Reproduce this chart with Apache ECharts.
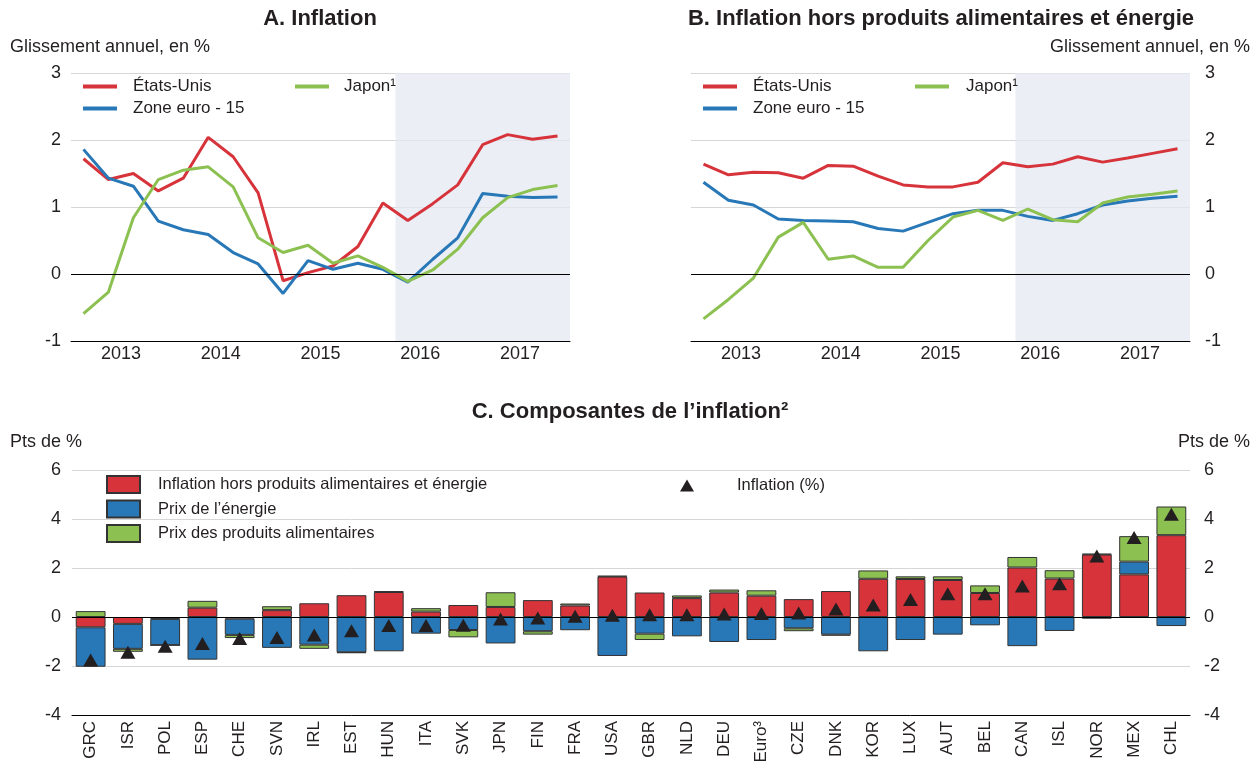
<!DOCTYPE html>
<html>
<head>
<meta charset="utf-8">
<script src="https://cdn.jsdelivr.net/npm/echarts@6/dist/echarts.min.js"></script>
<style>
  html, body { margin: 0; padding: 0; background: #fff; }
  #main { width: 1259px; height: 765px; }
</style>
</head>
<body>
<div id="main"></div>
<script>
// trimestres 2013T1 - 2017T4
var quarters = ['2013T1','2013T2','2013T3','2013T4','2014T1','2014T2','2014T3','2014T4',
  '2015T1','2015T2','2015T3','2015T4','2016T1','2016T2','2016T3','2016T4',
  '2017T1','2017T2','2017T3','2017T4'];
var years = ['2013', '2014', '2015', '2016', '2017'];

// A. Inflation
var usA = [1.72, 1.41, 1.50, 1.24, 1.43, 2.04, 1.75, 1.21, -0.10, 0.02,
  0.12, 0.41, 1.06, 0.80, 1.05, 1.33, 1.93, 2.08, 2.01, 2.06];
var euA = [1.86, 1.43, 1.31, 0.79, 0.66, 0.59, 0.32, 0.15, -0.29, 0.20,
  0.07, 0.16, 0.07, -0.12, 0.22, 0.54, 1.20, 1.16, 1.14, 1.15];
var jpA = [-0.59, -0.27, 0.84, 1.41, 1.55, 1.60, 1.30, 0.54, 0.32, 0.43,
  0.16, 0.27, 0.10, -0.11, 0.06, 0.37, 0.84, 1.14, 1.26, 1.32];

// B. Inflation hors produits alimentaires et énergie
var usB = [1.64, 1.48, 1.52, 1.51, 1.43, 1.62, 1.61, 1.46, 1.33, 1.30,
  1.30, 1.37, 1.66, 1.60, 1.64, 1.75, 1.67, 1.73, 1.80, 1.87];
var euB = [1.37, 1.10, 1.03, 0.82, 0.80, 0.79, 0.78, 0.68, 0.64, 0.77,
  0.90, 0.95, 0.95, 0.86, 0.80, 0.90, 1.03, 1.09, 1.13, 1.16];
var jpB = [-0.67, -0.38, -0.06, 0.55, 0.77, 0.22, 0.27, 0.10, 0.10, 0.50,
  0.85, 0.95, 0.80, 0.97, 0.81, 0.78, 1.06, 1.15, 1.19, 1.24];

// C. Composantes de l'inflation
var countries = ['GRC','ISR','POL','ESP','CHE','SVN','IRL','EST','HUN','ITA','SVK','JPN','FIN','FRA','USA',
  'GBR','NLD','DEU','Euro³','CZE','DNK','KOR','LUX','AUT','BEL','CAN','ISL','NOR','MEX','CHL'];
var coreInfl = [-0.42, -0.28, -0.08, 0.38, -0.07, 0.28, 0.56, 0.89, 1.02, 0.22, 0.49, 0.41, 0.69, 0.47, 1.65,
  1.00, 0.77, 1.00, 0.87, 0.73, 1.06, 1.56, 1.55, 1.51, 0.98, 2.02, 1.57, 2.55, 1.74, 3.34];
var energy = [-1.61, -1.02, -1.07, -1.74, -0.66, -1.26, -1.13, -1.44, -1.40, -0.68, -0.53, -1.08, -0.58, -0.54, -1.59,
  -0.68, -0.79, -1.02, -0.94, -0.46, -0.72, -1.40, -0.94, -0.72, -0.34, -1.19, -0.57, -0.07, 0.52, -0.37];
var food = [0.24, -0.12, 0, 0.28, -0.13, 0.16, -0.17, -0.03, 0.03, 0.14, -0.30, 0.60, -0.14, 0.08, 0.03,
  -0.26, 0.11, 0.12, 0.22, -0.12, -0.04, 0.34, 0.11, 0.15, 0.31, 0.43, 0.34, 0.03, 1.04, 1.17];
var headline = [-1.76, -1.44, -1.19, -1.08, -0.88, -0.84, -0.73, -0.56, -0.35, -0.35, -0.34, -0.08, -0.04, 0.03, 0.07,
  0.09, 0.09, 0.12, 0.14, 0.16, 0.33, 0.49, 0.71, 0.95, 0.95, 1.27, 1.36, 2.49, 3.25, 4.19];

var RED = '#d6333b', BLUE = '#2878b8', GREEN = '#8cc152';
var TXT = '#231f20';
var FONT = 'Liberation Sans';

var chart = echarts.init(document.getElementById('main'));

function zeroLine() {
  return {
    silent: true, symbol: ['none', 'none'], label: { show: false },
    lineStyle: { color: '#000', width: 1, type: 'solid' },
    data: [{ yAxis: 0 }]
  };
}

// axes x pour un panneau de lignes (trimestres + années + axe caché pour la zone grisée)
function lineXAxes(g) {
  return [
    { type: 'category', gridIndex: g, data: quarters, boundaryGap: true, position: 'bottom',
      axisLine: { onZero: false, lineStyle: { color: '#000', width: 1 } },
      axisTick: { inside: true, length: 4, interval: 0, lineStyle: { color: '#000' } },
      axisLabel: { show: false }, splitLine: { show: false } },
    { type: 'category', gridIndex: g, data: years, boundaryGap: true, position: 'bottom',
      axisLine: { show: false, onZero: false },
      axisTick: { inside: true, length: 8, interval: 0, lineStyle: { color: '#000' } },
      axisLabel: { fontSize: 18, color: TXT, fontFamily: FONT, margin: 4 }, splitLine: { show: false } },
    { type: 'value', gridIndex: g, min: 0, max: 20, show: false }
  ];
}

function lineY(g, pos) {
  return { type: 'value', gridIndex: g, min: -1, max: 3, interval: 1, position: pos,
    axisLine: { show: false }, axisTick: { show: false },
    axisLabel: { fontSize: 18, color: TXT, fontFamily: FONT, margin: pos === 'left' ? 10 : 15 },
    splitLine: { lineStyle: { color: '#d6d6d6', width: 1 } } };
}

function lineSeries(name, data, color, xi, yi, extra) {
  var s = { name: name, type: 'line', xAxisIndex: xi, yAxisIndex: yi, data: data,
    symbol: 'none', lineStyle: { width: 3, color: color }, itemStyle: { color: color }, z: 3 };
  if (extra) s.markLine = zeroLine();
  return s;
}

function shade(xi, yi) {
  return { type: 'line', xAxisIndex: xi, yAxisIndex: yi, data: [], silent: true, z: 1,
    markArea: { silent: true, itemStyle: { color: '#e4e9f1', opacity: 0.75 },
      data: [[{ xAxis: 13 }, { xAxis: 20 }]] } };
}

var legendText = { fontSize: 17, color: TXT, fontFamily: FONT };
var legendTextC = { fontSize: 16.5, color: TXT, fontFamily: FONT };

var option = {
  animation: false,
  textStyle: { fontFamily: FONT },
  grid: [
    { left: 71, width: 499, top: 73, height: 268, containLabel: false, outerBoundsMode: 'none' },
    { left: 691, width: 499, top: 73, height: 268, containLabel: false, outerBoundsMode: 'none' },
    { left: 72, width: 1118, top: 470, height: 245, containLabel: false, outerBoundsMode: 'none' }
  ],
  xAxis: lineXAxes(0).concat(lineXAxes(1)).concat([
    { type: 'category', gridIndex: 2, data: countries, position: 'bottom',
      axisLine: { onZero: false, lineStyle: { color: '#000', width: 1 } },
      axisTick: { alignWithLabel: true, length: 4, lineStyle: { color: '#000' } },
      axisLabel: { rotate: 90, interval: 0, fontSize: 17, color: TXT, fontFamily: FONT, margin: 6 } }
  ]),
  yAxis: [
    lineY(0, 'left'),
    lineY(1, 'right'),
    { type: 'value', gridIndex: 2, min: -4, max: 6, interval: 2, position: 'left',
      axisLine: { show: false }, axisTick: { show: false },
      axisLabel: { fontSize: 18, color: TXT, fontFamily: FONT, margin: 11 },
      splitLine: { lineStyle: { color: '#d6d6d6', width: 1 } } },
    { type: 'value', gridIndex: 2, min: -4, max: 6, interval: 2, position: 'right',
      axisLine: { show: false }, axisTick: { show: false },
      axisLabel: { fontSize: 18, color: TXT, fontFamily: FONT, margin: 14 },
      splitLine: { show: false } }
  ],
  legend: [
    { data: ['États-Unis', 'Zone euro - 15'], orient: 'vertical', left: 83, top: 78, padding: 0,
      icon: 'rect', itemWidth: 34, itemHeight: 4, itemGap: 5, selectedMode: false,
      textStyle: Object.assign({ padding: [0, 0, 0, 11] }, legendText) },
    { data: ['Japon¹'], orient: 'vertical', left: 295, top: 78, padding: 0,
      icon: 'rect', itemWidth: 34, itemHeight: 4, selectedMode: false,
      textStyle: Object.assign({ padding: [0, 0, 0, 10] }, legendText) },
    { data: ['États-Unis', 'Zone euro - 15'], orient: 'vertical', left: 703, top: 78, padding: 0,
      icon: 'rect', itemWidth: 34, itemHeight: 4, itemGap: 5, selectedMode: false,
      textStyle: Object.assign({ padding: [0, 0, 0, 11] }, legendText) },
    { data: ['Japon¹'], orient: 'vertical', left: 915, top: 78, padding: 0,
      icon: 'rect', itemWidth: 34, itemHeight: 4, selectedMode: false,
      textStyle: Object.assign({ padding: [0, 0, 0, 12] }, legendText) },
    { data: ['Inflation hors produits alimentaires et énergie', 'Prix de l’énergie', 'Prix des produits alimentaires'],
      orient: 'vertical', left: 106, top: 475, padding: 0, icon: 'rect',
      itemWidth: 33, itemHeight: 17, itemGap: 5.5, selectedMode: false,
      textStyle: Object.assign({ padding: [0, 0, 0, 13] }, legendTextC) },
    { data: ['Inflation (%)'], left: 680, top: 477, padding: 0,
      itemWidth: 14, itemHeight: 12, selectedMode: false,
      textStyle: Object.assign({ padding: [0, 0, 0, 38] }, legendTextC) }
  ],
  graphic: [
    { type: 'text', x: 320, y: 19, style: { text: 'A. Inflation', fill: TXT,
      font: 'bold 22px "Liberation Sans"', textAlign: 'center', textVerticalAlign: 'middle' } },
    { type: 'text', x: 941, y: 19, style: { text: 'B. Inflation hors produits alimentaires et énergie', fill: TXT,
      font: 'bold 22px "Liberation Sans"', textAlign: 'center', textVerticalAlign: 'middle' } },
    { type: 'text', x: 10, y: 47, style: { text: 'Glissement annuel, en %', fill: TXT,
      font: '18px "Liberation Sans"', textAlign: 'left', textVerticalAlign: 'middle' } },
    { type: 'text', x: 1250, y: 47, style: { text: 'Glissement annuel, en %', fill: TXT,
      font: '18px "Liberation Sans"', textAlign: 'right', textVerticalAlign: 'middle' } },
    { type: 'text', x: 630, y: 412, style: { text: 'C. Composantes de l’inflation²', fill: TXT,
      font: 'bold 22px "Liberation Sans"', textAlign: 'center', textVerticalAlign: 'middle' } },
    { type: 'text', x: 10, y: 442, style: { text: 'Pts de %', fill: TXT,
      font: '18px "Liberation Sans"', textAlign: 'left', textVerticalAlign: 'middle' } },
    { type: 'text', x: 1250, y: 442, style: { text: 'Pts de %', fill: TXT,
      font: '18px "Liberation Sans"', textAlign: 'right', textVerticalAlign: 'middle' } }
  ],
  series: [
    shade(2, 0),
    lineSeries('États-Unis', usA, RED, 0, 0, true),
    lineSeries('Zone euro - 15', euA, BLUE, 0, 0),
    lineSeries('Japon¹', jpA, GREEN, 0, 0),
    shade(5, 1),
    lineSeries('États-Unis', usB, RED, 3, 1, true),
    lineSeries('Zone euro - 15', euB, BLUE, 3, 1),
    lineSeries('Japon¹', jpB, GREEN, 3, 1),
    { name: 'Inflation hors produits alimentaires et énergie', type: 'bar', stack: 'c',
      xAxisIndex: 6, yAxisIndex: 2, data: coreInfl, barCategoryGap: '20%',
      itemStyle: { color: RED, borderColor: '#333', borderWidth: 1 } },
    { name: 'Prix de l’énergie', type: 'bar', stack: 'c',
      xAxisIndex: 6, yAxisIndex: 2, data: energy, barCategoryGap: '20%',
      itemStyle: { color: BLUE, borderColor: '#333', borderWidth: 1 } },
    { name: 'Prix des produits alimentaires', type: 'bar', stack: 'c',
      xAxisIndex: 6, yAxisIndex: 2, data: food, barCategoryGap: '20%',
      itemStyle: { color: GREEN, borderColor: '#333', borderWidth: 1 },
      markLine: zeroLine() },
    { name: 'Inflation (%)', type: 'scatter', xAxisIndex: 6, yAxisIndex: 2, data: headline,
      symbol: 'triangle', symbolSize: [15, 13], itemStyle: { color: TXT, opacity: 1 }, z: 5 }
  ]
};

chart.setOption(option);
</script>
</body>
</html>
